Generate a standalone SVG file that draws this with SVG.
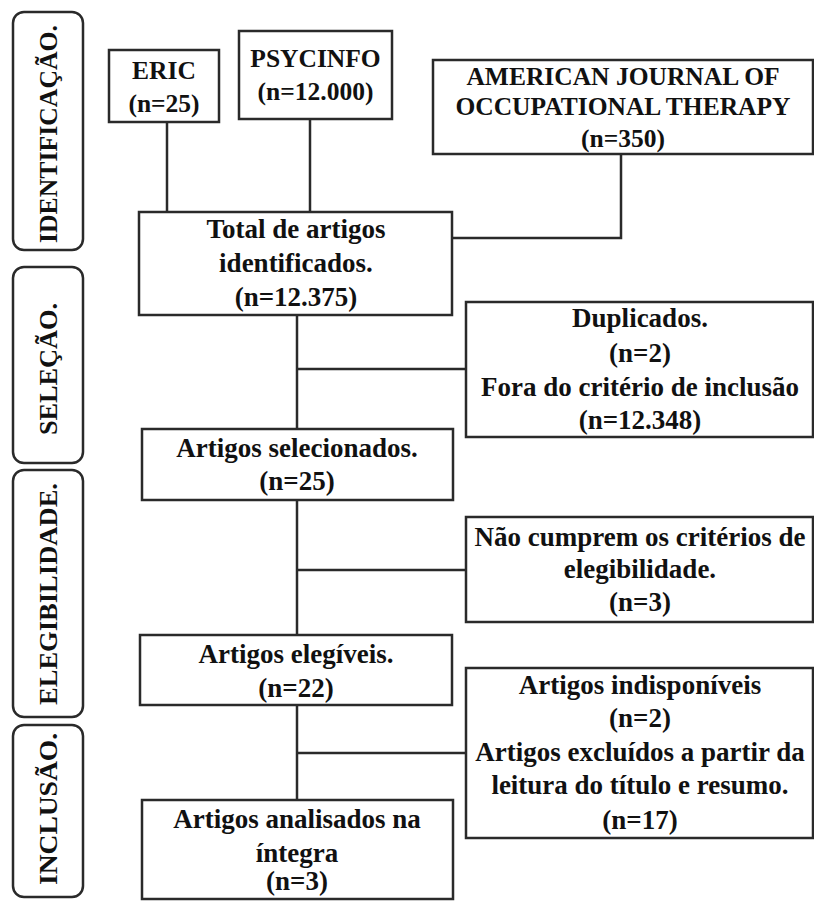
<svg xmlns="http://www.w3.org/2000/svg" width="814" height="901" viewBox="0 0 814 901">
<style>
.bg{fill:#fff}
.box{fill:#fff;stroke:#2a2a2a;stroke-width:2.5}
.phase{fill:#fff;stroke:#2a2a2a;stroke-width:2.5}
.conn{fill:none;stroke:#2a2a2a;stroke-width:2.5}
text{font-family:"Liberation Serif","Times New Roman",serif;fill:#111;text-anchor:middle}
.b{font-size:27px;font-weight:bold}
.t{font-size:25.5px;font-weight:bold}
.v{font-size:26px;font-weight:bold}
</style>
<rect class="bg" x="0" y="0" width="814" height="901"/>

<g id="phases">
  <g id="phase-identificacao">
    <rect class="phase" x="13" y="12" width="70" height="238" rx="11"/>
    <text class="v" transform="translate(57,134) rotate(-90)" textLength="218" lengthAdjust="spacingAndGlyphs">IDENTIFICAÇÃO.</text>
  </g>
  <g id="phase-selecao">
    <rect class="phase" x="13" y="267" width="70" height="196" rx="11"/>
    <text class="v" transform="translate(57,369) rotate(-90)" textLength="132" lengthAdjust="spacingAndGlyphs">SELEÇÃO.</text>
  </g>
  <g id="phase-elegibilidade">
    <rect class="phase" x="13" y="470" width="70" height="247" rx="11"/>
    <text class="v" transform="translate(57,594) rotate(-90)" textLength="222" lengthAdjust="spacingAndGlyphs">ELEGIBILIDADE.</text>
  </g>
  <g id="phase-inclusao">
    <rect class="phase" x="13" y="725" width="70" height="172" rx="11"/>
    <text class="v" transform="translate(57,809) rotate(-90)" textLength="152" lengthAdjust="spacingAndGlyphs">INCLUSÃO.</text>
  </g>
</g>

<g id="connectors">
  <path class="conn" d="M167 122 V212"/>
  <path class="conn" d="M310 119 V212"/>
  <path class="conn" d="M621 154 V238 H452"/>
  <path class="conn" d="M297 315 V429"/>
  <path class="conn" d="M297 369 H466"/>
  <path class="conn" d="M297 500 V635"/>
  <path class="conn" d="M297 570 H466"/>
  <path class="conn" d="M297 705 V800"/>
  <path class="conn" d="M297 753 H466"/>
</g>

<g id="eric">
  <rect class="box" x="109" y="50" width="110" height="72"/>
  <text class="t" x="164" y="79">ERIC</text>
  <text class="t" x="164" y="112">(n=25)</text>
</g>
<g id="psycinfo">
  <rect class="box" x="239" y="31" width="153" height="88"/>
  <text class="t" x="315.5" y="67">PSYCINFO</text>
  <text class="t" x="315.5" y="100">(n=12.000)</text>
</g>
<g id="ajot">
  <rect class="box" x="433" y="60" width="380" height="94"/>
  <text class="t" x="623" y="85">AMERICAN JOURNAL OF</text>
  <text class="t" x="623" y="115">OCCUPATIONAL THERAPY</text>
  <text class="t" x="623" y="147">(n=350)</text>
</g>
<g id="total">
  <rect class="box" x="139" y="212" width="313" height="103"/>
  <text class="b" x="296" y="238">Total de artigos</text>
  <text class="b" x="296" y="272">identificados.</text>
  <text class="b" x="296" y="306">(n=12.375)</text>
</g>
<g id="duplicados">
  <rect class="box" x="466" y="302" width="347" height="135"/>
  <text class="b" x="640" y="327">Duplicados.</text>
  <text class="b" x="640" y="362">(n=2)</text>
  <text class="b" x="640" y="396">Fora do critério de inclusão</text>
  <text class="b" x="640" y="429">(n=12.348)</text>
</g>
<g id="selecionados">
  <rect class="box" x="142" y="429" width="311" height="71"/>
  <text class="b" x="297" y="457">Artigos selecionados.</text>
  <text class="b" x="297" y="490">(n=25)</text>
</g>
<g id="nao-cumprem">
  <rect class="box" x="466" y="517" width="347" height="105"/>
  <text class="b" x="640" y="546">Não cumprem os critérios de</text>
  <text class="b" x="640" y="578">elegibilidade.</text>
  <text class="b" x="640" y="611">(n=3)</text>
</g>
<g id="elegiveis">
  <rect class="box" x="140" y="635" width="312" height="70"/>
  <text class="b" x="296" y="663">Artigos elegíveis.</text>
  <text class="b" x="296" y="697">(n=22)</text>
</g>
<g id="indisponiveis">
  <rect class="box" x="466" y="668" width="347" height="170"/>
  <text class="b" x="640" y="694">Artigos indisponíveis</text>
  <text class="b" x="640" y="727">(n=2)</text>
  <text class="b" x="640" y="761">Artigos excluídos a partir da</text>
  <text class="b" x="640" y="794">leitura do título e resumo.</text>
  <text class="b" x="640" y="829">(n=17)</text>
</g>
<g id="analisados">
  <rect class="box" x="142" y="800" width="311" height="99"/>
  <text class="b" x="297" y="828">Artigos analisados na</text>
  <text class="b" x="297" y="862">íntegra</text>
  <text class="b" x="297" y="890">(n=3)</text>
</g>
</svg>
